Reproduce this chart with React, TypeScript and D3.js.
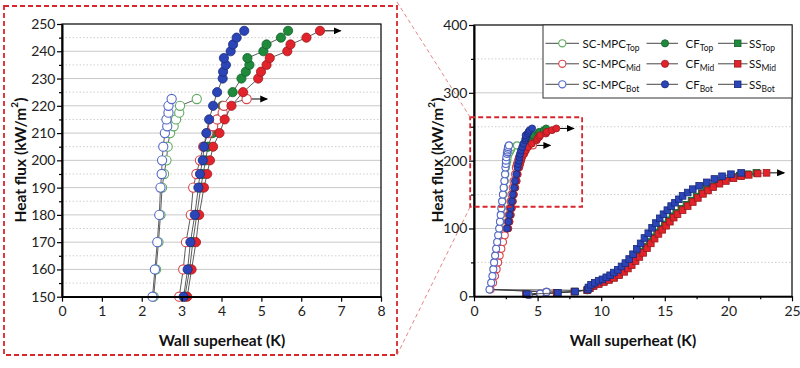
import { useEffect, useRef } from "react"
import * as d3 from "d3"

type Pt = [number, number]

// wall superheat (K), heat flux (kW/m2)
const scMpcTop: Pt[] = [
  [4.3, 2], [5.2, 4], [5.7, 6.5], [8.9, 8.8], [1.25, 10], [1.38, 20], [1.48, 30], [1.55, 40], [1.62, 50],
  [1.7, 60], [1.78, 70], [1.86, 80], [1.94, 90], [2.01, 100], [2.07, 110], [2.13, 120], [2.18, 130],
  [2.24, 140], [2.3, 150], [2.36, 160], [2.42, 170], [2.47, 180], [2.51, 190], [2.56, 195], [2.62, 200],
  [2.65, 205], [2.71, 210], [2.8, 212.5], [2.86, 215], [2.94, 217.5], [2.96, 220], [3.38, 222.5],
]
const scMpcMid: Pt[] = [
  [4.3, 2], [5.2, 4], [5.7, 6.5], [1.3, 10], [1.5, 20], [1.65, 30], [1.78, 40], [1.9, 50], [2.02, 60],
  [2.15, 70], [2.28, 80], [2.42, 90], [2.55, 100], [2.65, 110], [2.74, 120], [2.82, 130], [2.88, 140],
  [2.94, 150], [3.04, 160], [3.11, 170], [3.23, 180], [3.29, 190], [3.37, 195], [3.46, 200], [3.54, 205],
  [3.67, 210], [3.79, 212.5], [3.89, 215], [4.03, 217.5], [4.06, 220], [4.63, 222.5],
]
const scMpcBot: Pt[] = [
  [4.3, 2], [5.2, 4], [5.7, 6.5], [1.22, 10], [1.35, 20], [1.45, 30], [1.52, 40], [1.58, 50], [1.66, 60],
  [1.74, 70], [1.82, 80], [1.9, 90], [1.98, 100], [2.04, 110], [2.1, 120], [2.15, 130], [2.21, 140],
  [2.27, 150], [2.33, 160], [2.39, 170], [2.44, 180], [2.47, 190], [2.5, 195], [2.51, 200], [2.54, 205],
  [2.58, 210], [2.64, 212.5], [2.62, 215], [2.67, 217.5], [2.67, 220], [2.75, 222.5],
]
const cfTop: Pt[] = [
  [2.62, 100], [2.72, 110], [2.82, 120], [2.9, 130], [3.0, 140], [3.08, 150], [3.2, 160], [3.28, 170],
  [3.38, 180], [3.48, 190], [3.54, 195], [3.6, 200], [3.66, 205], [3.78, 210], [3.9, 215], [4.02, 220],
  [4.28, 225], [4.5, 230], [4.61, 232.5], [4.7, 235], [4.65, 237.5], [5.05, 240], [5.13, 242.5],
  [5.49, 245], [5.67, 247.5],
]
const cfMid: Pt[] = [
  [2.7, 100], [2.8, 110], [2.9, 120], [2.98, 130], [3.06, 140], [3.14, 150], [3.25, 160], [3.36, 170],
  [3.44, 180], [3.56, 190], [3.64, 195], [3.71, 200], [3.79, 205], [3.95, 210], [4.08, 215], [4.25, 220],
  [4.54, 225], [4.92, 230], [4.99, 232.5], [5.13, 235], [5.21, 237.5], [5.65, 240], [5.73, 242.5],
  [6.13, 245], [6.47, 247.5],
]
const cfBot: Pt[] = [
  [2.6, 100], [2.7, 110], [2.8, 120], [2.88, 130], [2.97, 140], [3.05, 150], [3.15, 160], [3.22, 170],
  [3.33, 180], [3.42, 190], [3.46, 195], [3.53, 200], [3.56, 205], [3.62, 210], [3.69, 215], [3.79, 220],
  [3.89, 225], [4.03, 230], [4.04, 232.5], [4.11, 235], [4.06, 237.5], [4.23, 240], [4.29, 242.5],
  [4.38, 245], [4.57, 247.5],
]
const ssTop: Pt[] = [
  [4.1, 3], [6.5, 5], [7.9, 7], [8.9, 9], [9.1, 12], [9.4, 16], [9.8, 19], [10.2, 22], [10.6, 25],
  [11.0, 28], [11.4, 33], [11.7, 38], [12.0, 43], [12.3, 48], [12.6, 54], [12.9, 60], [13.2, 66],
  [13.5, 73], [13.8, 80], [14.1, 87], [14.4, 94], [14.7, 100], [15.0, 106], [15.3, 112], [15.6, 118],
  [15.9, 123], [16.3, 129], [16.7, 135], [17.1, 141], [17.5, 147], [17.9, 152], [18.3, 157], [18.7, 162],
  [19.2, 167], [19.7, 171], [20.3, 175], [20.9, 178], [21.5, 180], [22.2, 182],
]
const ssMid: Pt[] = [
  [4.1, 3], [6.5, 5], [7.9, 7], [8.9, 9], [9.1, 12], [9.4, 15], [9.8, 18], [10.2, 21], [10.6, 24],
  [11.0, 27], [11.4, 31], [11.8, 36], [12.1, 41], [12.4, 46], [12.7, 52], [13.0, 58], [13.3, 64],
  [13.6, 71], [13.9, 78], [14.2, 85], [14.5, 92], [14.8, 98], [15.1, 104], [15.4, 110], [15.7, 116],
  [16.0, 121], [16.4, 127], [16.8, 133], [17.2, 139], [17.6, 145], [18.0, 151], [18.4, 156], [18.8, 161],
  [19.3, 166], [19.8, 170], [20.4, 174], [21.0, 177], [21.6, 179], [22.3, 181], [23.0, 182],
]
const ssBot: Pt[] = [
  [4.15, 3], [6.6, 5], [7.95, 7], [8.95, 10], [9.0, 13], [9.2, 17], [9.5, 20], [9.8, 23], [10.1, 25],
  [10.4, 28], [10.7, 31], [11.0, 35], [11.3, 39], [11.6, 44], [11.9, 49], [12.2, 55], [12.5, 62],
  [12.8, 70], [13.1, 78], [13.4, 86], [13.7, 93], [14.0, 101], [14.3, 108], [14.6, 115], [14.9, 121],
  [15.2, 127], [15.5, 133], [15.8, 138], [16.1, 143], [16.4, 148], [16.8, 153], [17.2, 158], [17.7, 163],
  [18.3, 168], [18.9, 173], [19.5, 177], [20.2, 180], [21.0, 182],
]

const leftXTicks = [0, 1, 2, 3, 4, 5, 6, 7, 8]
const leftYTicks = [150, 160, 170, 180, 190, 200, 210, 220, 230, 240, 250]
const rightXTicks = [0, 5, 10, 15, 20, 25]
const rightYTicks = [0, 100, 200, 300, 400]

const groups = ["SC-MPC", "CF", "SS"]
const positions = ["Top", "Mid", "Bot"]

const GREEN = { fill: "#1f8a3b", edge: "#14602a", open: "#5faa60" }
const RED = { fill: "#e3232b", edge: "#9a1a1e", open: "#d8454b" }
const BLUE = { fill: "#2b45b8", edge: "#1a2a78", open: "#5468c8" }

type Kind = "open" | "dot" | "square"
interface Series {
  group: string
  pos: string
  data: Pt[]
  kind: Kind
  col: { fill: string; edge: string; open: string }
  arrow: boolean
}

// drawn in the order Top row, Mid row, Bot row
const series: Series[] = [
  { group: "SC-MPC", pos: "Top", data: scMpcTop, kind: "open", col: GREEN, arrow: false },
  { group: "CF", pos: "Top", data: cfTop, kind: "dot", col: GREEN, arrow: false },
  { group: "SS", pos: "Top", data: ssTop, kind: "square", col: GREEN, arrow: false },
  { group: "SC-MPC", pos: "Mid", data: scMpcMid, kind: "open", col: RED, arrow: true },
  { group: "CF", pos: "Mid", data: cfMid, kind: "dot", col: RED, arrow: true },
  { group: "SS", pos: "Mid", data: ssMid, kind: "square", col: RED, arrow: true },
  { group: "SC-MPC", pos: "Bot", data: scMpcBot, kind: "open", col: BLUE, arrow: false },
  { group: "CF", pos: "Bot", data: cfBot, kind: "dot", col: BLUE, arrow: false },
  { group: "SS", pos: "Bot", data: ssBot, kind: "square", col: BLUE, arrow: false },
]

const FONT = "Lato, 'Noto Sans', sans-serif"

function drawMarker(g: any, kind: Kind, col: Series["col"], cx: number, cy: number, r: number) {
  if (kind === "square") {
    g.append("rect")
      .attr("x", cx - r).attr("y", cy - r).attr("width", 2 * r).attr("height", 2 * r)
      .attr("fill", col.fill).attr("stroke", col.edge).attr("stroke-width", 0.8)
  } else {
    g.append("circle")
      .attr("cx", cx).attr("cy", cy).attr("r", r)
      .attr("fill", kind === "open" ? "#fff" : col.fill)
      .attr("stroke", kind === "open" ? col.open : col.edge)
      .attr("stroke-width", kind === "open" ? 1.1 : 0.8)
  }
}

export default function App() {
  const ref = useRef<SVGSVGElement>(null)

  useEffect(() => {
    if (!ref.current) return
    const svg = d3.select(ref.current)
    svg.selectAll("*").remove()

    svg.append("defs").append("marker")
      .attr("id", "arrowhead").attr("viewBox", "0 0 8 8").attr("refX", 7).attr("refY", 4)
      .attr("markerWidth", 8).attr("markerHeight", 8).attr("markerUnits", "userSpaceOnUse")
      .attr("orient", "auto")
      .append("path").attr("d", "M0,0.5 L8,4 L0,7.5 Z").attr("fill", "#000")

    const panel = (
      xs: d3.ScaleLinear<number, number>,
      ys: d3.ScaleLinear<number, number>,
      xTicks: number[], yTicks: number[], xMinor: number[], yMinor: number[],
      gridSolid: number[], gridDot: number[],
      r: number, arrowLen: number, keep: (p: Pt) => boolean,
    ) => {
      const g = svg.append("g")
      const [x0, x1] = xs.range()
      const [y1, y0] = ys.range()

      gridSolid.forEach((v) => {
        g.append("line").attr("x1", x0).attr("x2", x1).attr("y1", ys(v)).attr("y2", ys(v))
          .attr("stroke", "#c9c9c9").attr("stroke-width", 1)
      })
      gridDot.forEach((v) => {
        g.append("line").attr("x1", x0).attr("x2", x1).attr("y1", ys(v)).attr("y2", ys(v))
          .attr("stroke", "#cfcfcf").attr("stroke-width", 1).attr("stroke-dasharray", "1.5,2")
      })

      const line = d3.line<Pt>().x((d) => xs(d[0])).y((d) => ys(d[1]))
      series.forEach((s) => {
        const pts = s.data.filter(keep)
        if (pts.length === 0) return
        g.append("path").attr("d", line(pts)).attr("fill", "none")
          .attr("stroke", "#333").attr("stroke-width", 0.8)
        if (s.arrow) {
          const last = pts[pts.length - 1]
          g.append("line")
            .attr("x1", xs(last[0]) + r).attr("x2", xs(last[0]) + r + arrowLen)
            .attr("y1", ys(last[1])).attr("y2", ys(last[1]))
            .attr("stroke", "#000").attr("stroke-width", 1).attr("marker-end", "url(#arrowhead)")
        }
        pts.forEach((p) => drawMarker(g, s.kind, s.col, xs(p[0]), ys(p[1]), s.kind === "square" ? r * 0.95 : r))
      })

      // frame
      g.append("rect").attr("x", x0).attr("y", y0).attr("width", x1 - x0).attr("height", y1 - y0)
        .attr("fill", "none").attr("stroke", "#000").attr("stroke-width", 1.2)

      const styleAxis = (a: any) => {
        a.select(".domain").attr("stroke", "#000").attr("stroke-width", 1.6)
        a.selectAll(".tick line").attr("stroke", "#000").attr("stroke-width", 1.2)
        a.selectAll("text").attr("font-family", FONT).attr("font-size", 14).attr("fill", "#222")
      }
      const ax = g.append("g").attr("transform", `translate(0,${y1})`)
        .call(d3.axisBottom(xs).tickValues(xTicks).tickSize(5).tickSizeOuter(0).tickPadding(4.5).tickFormat(d3.format("d")))
      styleAxis(ax)
      const axm = g.append("g").attr("transform", `translate(0,${y1})`)
        .call(d3.axisBottom(xs).tickValues(xMinor).tickSize(3).tickSizeOuter(0).tickFormat(() => ""))
      styleAxis(axm)
      const ay = g.append("g").attr("transform", `translate(${x0},0)`)
        .call(d3.axisLeft(ys).tickValues(yTicks).tickSize(5).tickSizeOuter(0).tickPadding(1.5).tickFormat(d3.format("d")))
      styleAxis(ay)
      const aym = g.append("g").attr("transform", `translate(${x0},0)`)
        .call(d3.axisLeft(ys).tickValues(yMinor).tickSize(3).tickSizeOuter(0).tickFormat(() => ""))
      styleAxis(aym)
      return g
    }

    // left (zoomed) panel
    const xL = d3.scaleLinear().domain([0, 8]).range([62, 381])
    const yL = d3.scaleLinear().domain([150, 250]).range([296.7, 24])
    panel(
      xL, yL, leftXTicks, leftYTicks, [], d3.range(155, 250, 10),
      d3.range(160, 250, 10), d3.range(155, 250, 10),
      4.6, 16, (p) => p[1] >= 150 && p[0] <= 8,
    )

    // right (full) panel
    const xR = d3.scaleLinear().domain([0, 25]).range([474, 792])
    const yR = d3.scaleLinear().domain([0, 400]).range([296.3, 25])
    panel(
      xR, yR, rightXTicks, rightYTicks, [2.5, 7.5, 12.5, 17.5, 22.5], [50, 150, 250, 350],
      [100, 200, 300], [50, 150, 250, 350],
      3.5, 14, () => true,
    )

    // axis titles
    const title = (x: number, y: number, rot: boolean) => {
      const t = svg.append("text").attr("font-family", FONT).attr("font-weight", 700).attr("font-size", 15.5)
        .attr("fill", "#111").attr("text-anchor", "middle")
      if (rot) {
        t.attr("transform", `translate(${x},${y}) rotate(-90)`).attr("dominant-baseline", "central")
        t.append("tspan").text("Heat flux (kW/m")
        t.append("tspan").attr("font-size", 10).attr("dy", -6).text("2")
        t.append("tspan").attr("dy", 6).text(")")
      } else {
        t.attr("x", x).attr("y", y).text("Wall superheat (K)")
      }
    }
    title(222, 346, false)
    title(20, 160, true)
    title(633, 346, false)
    title(437, 160, true)

    // legend
    const lg = svg.append("g")
    lg.append("rect").attr("x", 543).attr("y", 25).attr("width", 249).attr("height", 73)
      .attr("fill", "#fff").attr("stroke", "#333").attr("stroke-width", 1)
    const cols = [
      { l0: 545.5, l1: 579, m: 562.3, t: 582.5 },
      { l0: 646.5, l1: 678, m: 665, t: 685.5 },
      { l0: 718, l1: 747.5, m: 737.7, t: 749 },
    ]
    const rowsY = [43.3, 63.8, 84.3]
    series.forEach((s) => {
      const c = cols[groups.indexOf(s.group)]
      const y = rowsY[positions.indexOf(s.pos)]
      lg.append("line").attr("x1", c.l0).attr("x2", c.l1).attr("y1", y).attr("y2", y)
        .attr("stroke", "#333").attr("stroke-width", 0.9)
      drawMarker(lg, s.kind, s.col, c.m, y, s.kind === "square" ? 3.3 : 3.6)
      const t = lg.append("text").attr("x", c.t).attr("y", y + 4.2)
        .attr("font-family", FONT).attr("font-size", 11.5).attr("fill", "#111")
      t.append("tspan").text(s.group)
      t.append("tspan").attr("font-size", 8.5).attr("dy", 3).text(s.pos)
    })

    // zoom annotation
    const red = "#d9262c"
    svg.append("rect").attr("x", 4).attr("y", 6).attr("width", 393).attr("height", 349)
      .attr("fill", "none").attr("stroke", red).attr("stroke-width", 1.8).attr("stroke-dasharray", "5,3")
    const bx0 = xR(-0.3), bx1 = xR(8.5), by0 = yR(264), by1 = yR(132)
    svg.append("rect").attr("x", bx0).attr("y", by0).attr("width", bx1 - bx0).attr("height", by1 - by0)
      .attr("fill", "none").attr("stroke", red).attr("stroke-width", 1.8).attr("stroke-dasharray", "5,3")
    svg.append("line").attr("x1", 397).attr("y1", 2).attr("x2", bx0).attr("y2", by0)
      .attr("stroke", "#e06868").attr("stroke-width", 0.8).attr("stroke-dasharray", "4,3")
    svg.append("line").attr("x1", 397).attr("y1", 355).attr("x2", bx0).attr("y2", by1)
      .attr("stroke", "#e06868").attr("stroke-width", 0.8).attr("stroke-dasharray", "4,3")
  }, [])

  return (
    <svg
      ref={ref}
      width={800}
      height={368}
      style={{ position: "absolute", left: 0, top: 0, background: "#fff" }}
    />
  )
}
